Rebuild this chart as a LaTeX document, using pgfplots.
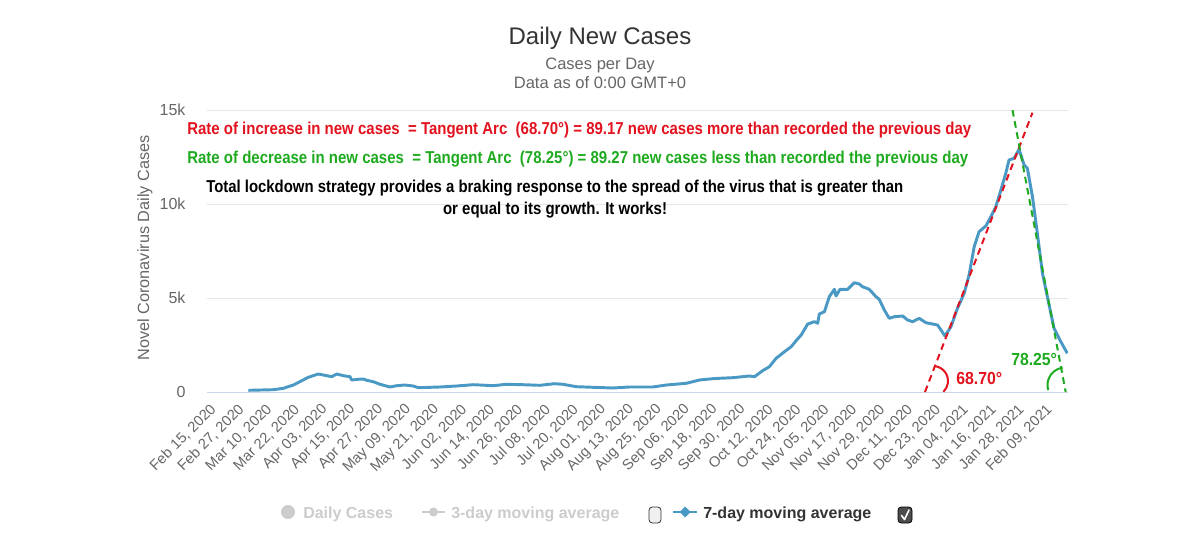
\documentclass[border=0pt]{standalone}
\usepackage{pgfplots}
\pgfplotsset{compat=1.18}
\usepackage{pgfplotstable}
\usepackage{graphicx}
\usepackage{fontspec}
\setmainfont{Liberation Sans}
\definecolor{linec}{RGB}{74,152,196}
\definecolor{txtd}{HTML}{333333}
\definecolor{txtm}{HTML}{666666}
\definecolor{gridc}{HTML}{E6E6E6}
\definecolor{axisc}{HTML}{CCD6EB}
\definecolor{annred}{RGB}{226,18,30}
\definecolor{anngreen}{RGB}{30,170,30}
\definecolor{legoff}{HTML}{CCCCCC}
\newcommand\ann{\bfseries\fontsize{12.9}{14}\selectfont}

\pgfplotstableread{
day val
17.3 90
28.1 122
32.4 197
36.7 372
40.3 601
43.1 782
47.4 957
51.1 867
53.2 814
55.4 957
58.2 867
61.1 814
61.8 638
64.6 675
66.8 691
68.3 622
71.1 548
74.0 410
78.3 266
81.2 335
84.7 372
88.3 319
90.5 229
99.8 266
107.0 319
114.1 388
117.0 372
122.7 335
128.5 410
135.6 388
142.8 356
149.2 441
152.8 410
158.6 282
165.7 250
174.3 213
181.5 266
191.5 266
197.3 372
205.9 463
211.6 638
217.3 707
220.2 729
225.9 761
233.1 851
235.3 814
238.8 1133
241.7 1346
244.6 1793
248.2 2144
251.1 2410
253.2 2729
255.4 3032
258.2 3617
261.1 3739
262.5 3654
263.2 4149
265.4 4271
267.5 5069
269.7 5463
270.4 5106
272.1 5463
275.4 5463
278.3 5814
280.4 5745
281.8 5601
284.7 5463
287.6 5069
289.0 4931
291.2 4362
293.3 3920
295.5 4005
299.1 4042
301.2 3830
303.4 3739
306.2 3920
309.1 3686
314.1 3564
315.6 3298
317.3 2979
319.9 3473
322.7 4452
325.6 5250
327.7 6223
329.9 7729
332.0 8526
334.9 8830
337.1 9324
339.2 9856
341.4 10744
343.5 11633
344.9 12340
347.1 12431
349.2 12909
351.4 12074
352.8 11899
355.0 10388
357.1 8441
359.3 6314
361.4 5069
364.3 3388
367.2 2675
370.0 2058
}\sevenday

\begin{document}
\begin{tikzpicture}
\useasboundingbox (0,0) rectangle (900pt,415.5pt);
\begin{axis}[
  at={(155.25pt,121.5pt)}, anchor=south west,
  scale only axis, width=645.75pt, height=211.5pt,
  xmin=-0.5, xmax=370.3, ymin=0, ymax=15000,
  axis line style={draw=none},
  ymajorgrids, major grid style={gridc, line width=0.75pt},
  major tick length=0pt,
  scaled y ticks=false,
  ytick={0,5000,10000,15000}, yticklabels={0,5k,10k,15k},
  yticklabel style={font=\fontsize{12}{14}\selectfont, text=txtm, anchor=east, inner sep=0pt, xshift=-16pt},
  xtick={0,12,...,360},
  xticklabels={{Feb 15, 2020},{Feb 27, 2020},{Mar 10, 2020},{Mar 22, 2020},{Apr 03, 2020},{Apr 15, 2020},{Apr 27, 2020},{May 09, 2020},{May 21, 2020},{Jun 02, 2020},{Jun 14, 2020},{Jun 26, 2020},{Jul 08, 2020},{Jul 20, 2020},{Aug 01, 2020},{Aug 13, 2020},{Aug 25, 2020},{Sep 06, 2020},{Sep 18, 2020},{Sep 30, 2020},{Oct 12, 2020},{Oct 24, 2020},{Nov 05, 2020},{Nov 17, 2020},{Nov 29, 2020},{Dec 11, 2020},{Dec 23, 2020},{Jan 04, 2021},{Jan 16, 2021},{Jan 28, 2021},{Feb 09, 2021}},
  xticklabel style={font=\fontsize{11}{12}\selectfont, text=txtm, rotate=45, anchor=east, inner sep=0pt, xshift=-5pt, yshift=-11pt},
]
\draw[axisc, line width=0.75pt] (rel axis cs:0,0) -- (rel axis cs:1,0);
\addplot[linec, line width=2.2pt, line join=round, no markers] table[x=day,y=val] {\sevenday};
\addplot[annred, line width=1.5pt, dash pattern=on 5pt off 3.5pt, no markers] coordinates {(308.7,0) (355.0,14856)};
\addplot[anngreen, line width=1.5pt, dash pattern=on 5pt off 3.5pt, no markers] coordinates {(346.4,15000) (369.3,0)};
\end{axis}

\begin{scope}[x=0.75pt,y=-0.75pt,shift={(0pt,415.5pt)}]
% angle arcs
\draw[annred, line width=1.5pt] (933,381) ++(82:11.25pt) arc[start angle=82, end angle=-46, radius=11.25pt];
\draw[anngreen, line width=1.5pt] (1065,385) ++(98:13.125pt) arc[start angle=98, end angle=197, radius=13.125pt];
\node[anchor=base west, inner sep=0pt, text=annred] at (956,384.3) {\resizebox{34.5pt}{\height}{\ann\fontsize{13.1}{14}\selectfont 68.70°}};
\node[anchor=base west, inner sep=0pt, text=anngreen] at (1011,365.7) {\resizebox{34.3pt}{\height}{\ann\fontsize{13.1}{14}\selectfont 78.25°}};

% annotations
\node[anchor=base west, inner sep=0pt, text=annred] at (187,135) {\resizebox{588pt}{\height}{\ann Rate of increase in new cases\ \ = Tangent Arc\ \ (68.70°) = 89.17 new cases more than recorded the previous day}};
\node[anchor=base west, inner sep=0pt, text=anngreen] at (187,164) {\resizebox{585.75pt}{\height}{\ann Rate of decrease in new cases\ \ = Tangent Arc\ \ (78.25°) = 89.27 new cases less than recorded the previous day}};
\node[anchor=base west, inner sep=0pt, text=black] at (206,192.3) {\resizebox{522.75pt}{\height}{\ann Total lockdown strategy provides a braking response to the spread of the virus that is greater than}};
\node[anchor=base, inner sep=0pt, text=black] at (555,215) {\resizebox{168pt}{\height}{\ann or equal to its growth. It works!}};

% titles
\node[anchor=base, inner sep=0pt, text=txtd, font=\fontsize{18}{20}\selectfont] at (600,44.5) {Daily New Cases};
\node[anchor=base, inner sep=0pt, text=txtm, font=\fontsize{12.4}{14}\selectfont] at (600,70) {Cases per Day};
\node[anchor=base, inner sep=0pt, text=txtm, font=\fontsize{12.4}{14}\selectfont] at (600,89) {Data as of 0:00 GMT+0};
\node[rotate=90, inner sep=0pt, text=txtm, font=\fontsize{12.2}{14}\selectfont] at (145,248) {Novel Coronavirus Daily Cases};

% legend
\fill[legoff] (288,512) circle[radius=5.25pt];
\node[anchor=base west, inner sep=0pt, text=legoff, font=\bfseries\fontsize{12}{14}\selectfont] at (303,518) {Daily Cases};
\draw[legoff, line width=1.5pt] (422,512) -- (445,512);
\fill[legoff] (433.5,512) circle[radius=3.4pt];
\node[anchor=base west, inner sep=0pt, text=legoff, font=\bfseries\fontsize{12}{14}\selectfont] at (451,518) {3-day moving average};
\draw[txtd, line width=0.6pt, fill=black!6, rounded corners=2.5pt] (649,507) rectangle (661,523);
\draw[linec, line width=1.5pt] (673,512) -- (697,512);
\fill[linec] (685,506.5) -- (690.5,512) -- (685,517.5) -- (679.5,512) -- cycle;
\node[anchor=base west, inner sep=0pt, text=txtd, font=\bfseries\fontsize{12}{14}\selectfont] at (703,518) {7-day moving average};
\draw[black, line width=0.6pt, fill=black!70, rounded corners=2.5pt] (898,507) rectangle (912,523);
\draw[white, line width=1.2pt, line cap=round, line join=round] (901.5,515.5) -- (904.5,519.5) -- (909,510);
\end{scope}
\end{tikzpicture}
\end{document}
